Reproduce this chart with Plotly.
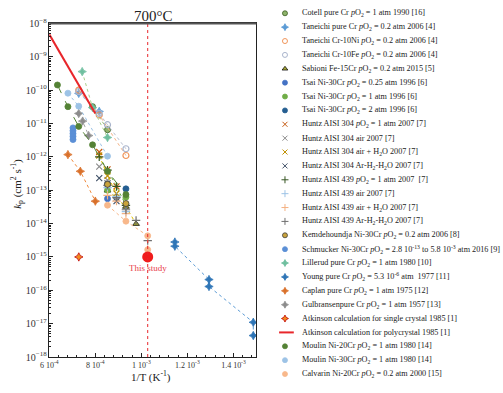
import plotly.graph_objects as go

# ---------------- data (1/T in K^-1, kp in cm^2 s^-1) ----------------
cotell_x = [7.88e-4, 8.53e-4]
cotell_y = [3.2e-11, 6.5e-12]
taneichi_cr_x = [7.28e-4, 8.17e-4]
taneichi_cr_y = [8.0e-11, 2.3e-11]
taneichi_ni_x = [7.28e-4, 8.17e-4, 9.33e-4]
taneichi_ni_y = [1.0e-10, 1.8e-11, 1.1e-12]
taneichi_fe_x = [7.28e-4, 8.17e-4, 8.53e-4, 9.33e-4]
taneichi_fe_y = [9.0e-11, 2.0e-11, 9.2e-12, 1.75e-12]
sabioni_x = [8.53e-4, 9.33e-4, 9.77e-4]
sabioni_y = [9.8e-14, 3.2e-14, 9.8e-15]
tsai025_x = [8.53e-4]
tsai025_y = [5.6e-14]
tsai1_x = [8.53e-4, 9.33e-4]
tsai1_y = [1.0e-13, 6.2e-14]
tsai2_x = [8.53e-4, 9.33e-4]
tsai2_y = [1.55e-13, 1.1e-13]
h304_o2_x = [8.17e-4, 8.53e-4, 8.92e-4]
h304_o2_y = [1.4e-12, 4.2e-13, 1.3e-13]
h304_air_x = [8.17e-4, 8.53e-4, 8.92e-4]
h304_air_y = [5.1e-13, 2.0e-13, 6.0e-14]
h304_h2o_x = [8.17e-4, 8.53e-4, 8.92e-4]
h304_h2o_y = [1.1e-12, 2.7e-13, 8.0e-14]
h304_ar_x = [8.17e-4, 8.53e-4, 8.92e-4]
h304_ar_y = [2.3e-13, 1.6e-13, 4.7e-14]
h439_o2_x = [8.17e-4, 8.53e-4, 8.92e-4, 9.33e-4]
h439_o2_y = [1.0e-12, 4.0e-13, 1.3e-13, 3.5e-14]
h439_air_x = [8.53e-4, 8.92e-4, 9.33e-4]
h439_air_y = [1.2e-13, 6.5e-14, 2.3e-14]
h439_h2o_x = [8.53e-4, 8.92e-4, 9.33e-4]
h439_h2o_y = [7.0e-14, 4.7e-14, 2.0e-14]
h439_ar_x = [8.53e-4, 8.92e-4, 9.33e-4, 9.77e-4, 1.0276e-3]
h439_ar_y = [1.4e-13, 6.0e-14, 2.6e-14, 1.25e-14, 3.1e-15]
kemde_x = [8.53e-4, 9.33e-4]
kemde_y = [1.5e-13, 4.0e-14]
schmucker_x = [7.03e-4, 7.03e-4, 7.03e-4, 7.03e-4, 7.03e-4]
schmucker_y = [7.4e-12, 6.1e-12, 5.0e-12, 4.1e-12, 3.3e-12]
lillerud_x = [7.43e-4, 7.88e-4, 8.53e-4]
lillerud_y = [3.6e-10, 3.0e-11, 3.8e-12]
young_x = [1.1455e-3, 1.1455e-3, 1.2937e-3, 1.2937e-3, 1.486e-3, 1.486e-3]
young_y = [2.8e-15, 2.1e-15, 2.1e-16, 1.3e-16, 1.1e-17, 4.4e-18]
caplan_x = [6.81e-4, 7.35e-4, 8.0e-4]
caplan_y = [1.17e-12, 3.7e-13, 4.7e-14]
gulbransen_x = [7.28e-4, 7.45e-4, 7.71e-4]
gulbransen_y = [2.0e-11, 1.18e-11, 4.35e-12]
atk_single_x = [7.283e-4]
atk_single_y = [1.0e-15]
atk_poly_x = [6.0e-4, 8.0e-4]
atk_poly_y = [4.7e-9, 2.0e-11]
moulin20_x = [6.355e-4, 6.81e-4, 7.28e-4, 7.88e-4, 8.53e-4, 9.33e-4]
moulin20_y = [1.43e-10, 3.2e-11, 8.2e-12, 2.3e-12, 3.7e-13, 7.4e-14]
moulin30_x = [6.81e-4, 7.28e-4, 8.53e-4]
moulin30_y = [8.1e-11, 3.3e-11, 1.05e-12]
calvarin_x = [8.53e-4, 9.33e-4, 1.0276e-3, 1.0276e-3]
calvarin_y = [3.55e-14, 1.18e-14, 4.3e-15, 1.65e-15]
study_T_C = 700
study_kp = [1.0e-15]

x_tickvals = [6e-4, 8e-4, 1e-3, 1.2e-3, 1.4e-3]
x_ticktext = ["6 10<sup>-4</sup>", "8 10<sup>-4</sup>", "1 10<sup>-3</sup>",
              "1.2 10<sup>-3</sup>", "1.4 10<sup>-3</sup>"]
y_range_exp = [-18, -8]

PO2 = "<i>p</i>O<sub>2</sub>"
series = [
    dict(name=f"Cotell pure Cr {PO2} = 1 atm 1990 [16]", x=cotell_x, y=cotell_y, sym="circle", c="#8db36a", lc="#3a5a20", dash="dot", line="#9dbf7f"),
    dict(name=f"Taneichi pure Cr {PO2} = 0.2 atm 2006 [4]", x=taneichi_cr_x, y=taneichi_cr_y, sym="star-diamond", c="#5b9bd5", lc="#5b9bd5", dash="dot", line="#9dc3e6"),
    dict(name=f"Taneichi Cr-10Ni {PO2} = 0.2 atm 2006 [4]", x=taneichi_ni_x, y=taneichi_ni_y, sym="circle-open", c="#f0955a", lc="#f0955a", dash="dot", line="#f4b183"),
    dict(name=f"Taneichi Cr-10Fe {PO2} = 0.2 atm 2006 [4]", x=taneichi_fe_x, y=taneichi_fe_y, sym="circle-open", c="#a9b4cc", lc="#a9b4cc", dash="dot", line="#b8bfd0"),
    dict(name=f"Sabioni Fe-15Cr {PO2} = 0.2 atm 2015 [5]", x=sabioni_x, y=sabioni_y, sym="triangle-up", c="#a8a832", lc="#111111", dash="dot", line="#e0c000"),
    dict(name=f"Tsai Ni-30Cr {PO2} = 0.25 atm 1996 [6]", x=tsai025_x, y=tsai025_y, sym="circle", c="#4472c4", lc="#4472c4", dash=None),
    dict(name=f"Tsai Ni-30Cr {PO2} = 1 atm 1996 [6]", x=tsai1_x, y=tsai1_y, sym="circle", c="#70ad47", lc="#70ad47", dash=None),
    dict(name=f"Tsai Ni-30Cr {PO2} = 2 atm 1996 [6]", x=tsai2_x, y=tsai2_y, sym="circle", c="#255e91", lc="#255e91", dash=None),
    dict(name=f"Huntz AISI 304 {PO2} = 1 atm 2007 [7]", x=h304_o2_x, y=h304_o2_y, sym="x-thin-open", c="#c55a11", lc="#c55a11", dash=None),
    dict(name="Huntz AISI 304 air 2007 [7]", x=h304_air_x, y=h304_air_y, sym="x-thin-open", c="#8c8c8c", lc="#8c8c8c", dash=None),
    dict(name="Huntz AISI 304 air + H<sub>2</sub>O 2007 [7]", x=h304_h2o_x, y=h304_h2o_y, sym="x-thin-open", c="#bf9000", lc="#bf9000", dash="dot", line="#e6c200"),
    dict(name="Huntz AISI 304 Ar-H<sub>2</sub>-H<sub>2</sub>O 2007 [7]", x=h304_ar_x, y=h304_ar_y, sym="x-thin-open", c="#44546a", lc="#44546a", dash=None),
    dict(name=f"Huntz AISI 439 {PO2} = 1 atm 2007  [7]", x=h439_o2_x, y=h439_o2_y, sym="cross-thin-open", c="#375623", lc="#375623", dash="dot", line="#70ad47"),
    dict(name="Huntz AISI 439 air 2007 [7]", x=h439_air_x, y=h439_air_y, sym="cross-thin-open", c="#9dc3e6", lc="#9dc3e6", dash=None),
    dict(name="Huntz AISI 439 air + H<sub>2</sub>O 2007 [7]", x=h439_h2o_x, y=h439_h2o_y, sym="cross-thin-open", c="#f4b183", lc="#f4b183", dash=None),
    dict(name="Huntz AISI 439 Ar-H<sub>2</sub>-H<sub>2</sub>O 2007 [7]", x=h439_ar_x, y=h439_ar_y, sym="cross-thin-open", c="#6f6f6f", lc="#6f6f6f", dash=None),
    dict(name=f"Kemdehoundja Ni-30Cr {PO2} = 0.2 atm 2006 [8]", x=kemde_x, y=kemde_y, sym="circle", c="#c9a33c", lc="#3f3f3f", dash=None),
    dict(name=f"Schmucker Ni-30Cr {PO2} = 2.8 10<sup>-13</sup> to 5.8 10<sup>-3</sup> atm 2016 [9]", x=schmucker_x, y=schmucker_y, sym="circle", c="#5b8fd6", lc="#5b8fd6", dash=None),
    dict(name=f"Lillerud pure Cr {PO2} = 1 atm 1980 [10]", x=lillerud_x, y=lillerud_y, sym="star-diamond", c="#6fbf9f", lc="#6fbf9f", dash="dot", line="#a9d18e"),
    dict(name=f"Young pure Cr {PO2} = 5.3 10<sup>-6</sup> atm  1977 [11]", x=young_x, y=young_y, sym="star-diamond", c="#2e75b6", lc="#2e75b6", dash="dot", line="#5b9bd5"),
    dict(name=f"Caplan pure Cr {PO2} = 1 atm 1975 [12]", x=caplan_x, y=caplan_y, sym="star-diamond", c="#d9702a", lc="#d9702a", dash="dot", line="#f08a3c"),
    dict(name=f"Gulbransenpure Cr {PO2} = 1 atm 1957 [13]", x=gulbransen_x, y=gulbransen_y, sym="star-diamond", c="#8c8c8c", lc="#8c8c8c", dash="dot", line="#a6a6a6"),
    dict(name="Atkinson calculation for single crystal 1985 [1]", x=atk_single_x, y=atk_single_y, sym="star-diamond", c="#f28a1e", lc="#c00000", dash=None),
    dict(name="Atkinson calculation for polycrystal 1985 [1]", x=atk_poly_x, y=atk_poly_y, is_line=True, c="#e8262b"),
    dict(name=f"Moulin Ni-20Cr {PO2} = 1 atm 1980 [14]", x=moulin20_x, y=moulin20_y, sym="circle", c="#548235", lc="#548235", dash="dash", line="#548235"),
    dict(name=f"Moulin Ni-30Cr {PO2} = 1 atm 1980 [14]", x=moulin30_x, y=moulin30_y, sym="circle", c="#9dc3e6", lc="#9dc3e6", dash="dot", line="#9dc3e6"),
    dict(name=f"Calvarin Ni-20Cr {PO2} = 0.2 atm 2000 [15]", x=calvarin_x, y=calvarin_y, sym="circle", c="#f8b88b", lc="#f8b88b", dash="dot", line="#f8b88b"),
]

FONT = "Liberation Serif"
W, H = 503, 393
PL, PR, PT, PB = 41, 252, 17, 362  # plot area in pixels

fig = go.Figure()

# data traces
for s in series:
    if s.get("is_line"):
        fig.add_trace(go.Scatter(x=s["x"], y=s["y"], mode="lines",
                                 line=dict(color=s["c"], width=2), showlegend=False))
        continue
    if s["dash"]:
        fig.add_trace(go.Scatter(x=s["x"], y=s["y"], mode="lines",
                                 line=dict(color=s["line"], width=1, dash=s["dash"]),
                                 showlegend=False, hoverinfo="skip"))
    open_sym = s["sym"].endswith("open")
    fig.add_trace(go.Scatter(
        x=s["x"], y=s["y"], mode="markers", showlegend=False, name=s["name"],
        marker=dict(symbol=s["sym"], size=6, color=s["c"],
                    line=dict(color=s["lc"], width=1.2 if open_sym else 0.8))))

# this study
study_x = [1.0 / (study_T_C + 273.15)]
fig.add_trace(go.Scatter(x=study_x, y=study_kp, mode="markers", showlegend=False,
                         marker=dict(size=11, color="#f01c1c")))

# manual legend (pixel coordinate overlay axes)
LEG_Y0, LEG_DY = 6.5, 14.35
MX, TX = 281, 296
for i, s in enumerate(series):
    yy = LEG_Y0 + LEG_DY * i
    if s.get("is_line"):
        fig.add_trace(go.Scatter(x=[MX - 6, MX + 9], y=[yy, yy], mode="lines",
                                 line=dict(color=s["c"], width=2), showlegend=False,
                                 xaxis="x2", yaxis="y2", hoverinfo="skip"))
    else:
        open_sym = s["sym"].endswith("open")
        fig.add_trace(go.Scatter(x=[MX], y=[yy], mode="markers", showlegend=False,
                                 xaxis="x2", yaxis="y2", hoverinfo="skip",
                                 marker=dict(symbol=s["sym"], size=5, color=s["c"],
                                             line=dict(color=s["lc"], width=1 if open_sym else 0.8))))
    fig.add_annotation(text=s["name"], xref="paper", yref="paper",
                       x=TX / W, y=1 - yy / H, xanchor="left", yanchor="middle",
                       showarrow=False, font=dict(family=FONT, size=8.2, color="#222222"))

fig.update_layout(
    width=W, height=H, autosize=False,
    margin=dict(l=0, r=0, t=0, b=0),
    paper_bgcolor="white", plot_bgcolor="rgba(0,0,0,0)",
    font=dict(family=FONT, color="#222222"),
    showlegend=False,
    xaxis=dict(domain=[PL / W, PR / W], range=[6e-4, 1.5e-3],
               tickmode="array", tickvals=x_tickvals, ticktext=x_ticktext,
               ticks="inside", ticklen=4, tickcolor="#222", showgrid=False, zeroline=False,
               showline=True, linecolor="#222", linewidth=1, mirror=True,
               tickfont=dict(family=FONT, size=8, color="#333"), anchor="y",
               minor=dict(ticks="inside", ticklen=2, dtick=4e-5, tick0=6e-4,
                          tickcolor="#222", showgrid=False)),
    yaxis=dict(domain=[(H - PB) / H, (H - PT) / H], type="log", range=y_range_exp,
               dtick=1, exponentformat="power", showexponent="all",
               ticks="inside", ticklen=4, tickcolor="#222", showgrid=False, zeroline=False,
               showline=True, linecolor="#222", linewidth=1, mirror=True,
               tickfont=dict(family=FONT, size=8, color="#333"), anchor="x",
               minor=dict(ticks="inside", ticklen=2, tickcolor="#222", showgrid=False)),
    xaxis2=dict(domain=[0, 1], range=[0, W], visible=False, fixedrange=True, anchor="y2"),
    yaxis2=dict(domain=[0, 1], range=[H, 0], visible=False, fixedrange=True, anchor="x2"),
)

# 700 C reference line
fig.add_shape(type="line", xref="x", yref="paper", x0=study_x[0], x1=study_x[0],
              y0=(H - PB) / H, y1=(H - PT) / H,
              line=dict(color="#e8262b", width=1, dash="dot"))
# thicker top frame
fig.add_shape(type="line", xref="paper", yref="paper", x0=PL / W, x1=PR / W,
              y0=(H - PT) / H, y1=(H - PT) / H, line=dict(color="#555555", width=2))

fig.add_annotation(text="700°C", xref="paper", yref="paper", x=147 / W, y=1 - 9 / H,
                   showarrow=False, xanchor="center", yanchor="middle",
                   font=dict(family=FONT, size=15, color="#222"))
fig.add_annotation(text="This study", xref="x", yref="y", x=study_x[0], y=-15,
                   yshift=-11, showarrow=False, xanchor="center", yanchor="middle",
                   font=dict(family=FONT, size=9, color="#e8404a"))
fig.add_annotation(text="1/T (K<sup>-1</sup>)", xref="paper", yref="paper",
                   x=145 / W, y=1 - 382 / H, showarrow=False,
                   xanchor="center", yanchor="middle",
                   font=dict(family=FONT, size=11, color="#222"))
fig.add_annotation(text="<i>k</i><sub>p</sub> (cm<sup>2</sup> s<sup>-1</sup>)",
                   xref="paper", yref="paper", x=8 / W, y=1 - 183 / H, textangle=-90,
                   showarrow=False, xanchor="center", yanchor="middle",
                   font=dict(family=FONT, size=11, color="#222"))

fig.write_html("out.html")
